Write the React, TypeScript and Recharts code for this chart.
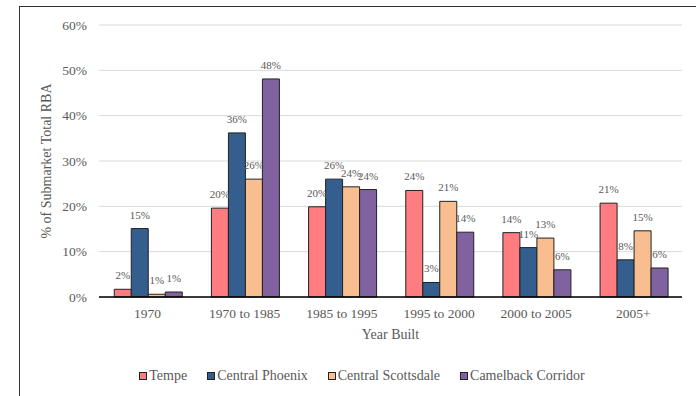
import * as React from "react"
import { BarChart, Bar, XAxis, YAxis, CartesianGrid, LabelList, Label } from "recharts"

// Share of submarket rentable building area by construction period
const periods = ["1970", "1970 to 1985", "1985 to 1995", "1995 to 2000", "2000 to 2005", "2005+"]
const tempe = [1.7, 19.6, 19.9, 23.5, 14.2, 20.7]
const centralPhoenix = [15.1, 36.2, 26.0, 3.2, 10.9, 8.2]
const centralScottsdale = [0.6, 26.0, 24.3, 21.1, 13.0, 14.6]
const camelbackCorridor = [1.1, 48.1, 23.7, 14.3, 6.0, 6.4]
const yTicks = [0, 10, 20, 30, 40, 50, 60]

const series = [
  { key: "tempe", name: "Tempe", color: "#FF7C80" },
  { key: "centralPhoenix", name: "Central Phoenix", color: "#335E8D" },
  { key: "centralScottsdale", name: "Central Scottsdale", color: "#F9BE8F" },
  { key: "camelbackCorridor", name: "Camelback Corridor", color: "#8062A0" },
]

const data = periods.map((period, i) => ({
  period,
  tempe: tempe[i],
  centralPhoenix: centralPhoenix[i],
  centralScottsdale: centralScottsdale[i],
  camelbackCorridor: camelbackCorridor[i],
}))

const FONT = '"Liberation Serif", "Times New Roman", serif'
const TEXT = "#595959"

function SeriesLegend() {
  return (
    <div
      style={{
        position: "absolute",
        left: 19,
        width: 706,
        top: 368,
        display: "flex",
        justifyContent: "center",
        fontFamily: FONT,
        fontSize: 14,
        lineHeight: "16px",
        color: TEXT,
      }}
    >
      {series.map((s) => (
        <div key={s.key} style={{ display: "flex", alignItems: "center", marginRight: 20 }}>
          <span
            style={{
              width: 6,
              height: 6,
              background: s.color,
              border: "1px solid #222",
              marginRight: 2,
              display: "inline-block",
            }}
          />
          <span>{s.name}</span>
        </div>
      ))}
    </div>
  )
}

export default function App() {
  return (
    <div style={{ position: "absolute", left: 0, top: 0, width: 696, height: 396, overflow: "hidden", background: "#fff" }}>
      <div
        style={{
          position: "absolute",
          left: 19,
          top: 6,
          width: 700,
          height: 420,
          border: "1px solid #333",
          boxSizing: "border-box",
        }}
      />
      <BarChart
        width={696}
        height={396}
        data={data}
        margin={{ top: 25, right: 14, bottom: 69, left: 19 }}
        barCategoryGap="15.7%"
        barGap={0}
        style={{ position: "absolute", left: 0, top: 0 }}
      >
        <CartesianGrid vertical={false} stroke="#D9D9D9" />
        <XAxis
          dataKey="period"
          height={30}
          tickLine={false}
          axisLine={{ stroke: "#000", strokeWidth: 1.5 }}
          tickMargin={5}
          tick={{ fill: TEXT, fontSize: 13.5, fontFamily: FONT }}
          interval={0}
        >
          <Label
            content={({ viewBox }: any) => (
              <text
                x={viewBox.x + viewBox.width / 2}
                y={viewBox.y + 42}
                textAnchor="middle"
                fill={TEXT}
                fontSize={14}
                fontFamily={FONT}
              >
                Year Built
              </text>
            )}
          />
        </XAxis>
        <YAxis
          width={80}
          domain={[0, 60]}
          ticks={yTicks}
          tickFormatter={(v: number) => `${v}%`}
          axisLine={false}
          tickLine={false}
          tickMargin={6}
          tick={{ fill: TEXT, fontSize: 13.5, fontFamily: FONT }}
        >
          <Label
            content={({ viewBox }: any) => {
              const cx = viewBox.x + 29
              const cy = viewBox.y + viewBox.height / 2
              return (
                <text
                  x={cx}
                  y={cy}
                  transform={`rotate(-90 ${cx} ${cy})`}
                  textAnchor="middle"
                  dominantBaseline="middle"
                  fill={TEXT}
                  fontSize={14}
                  fontFamily={FONT}
                >
                  % of Submarket Total RBA
                </text>
              )
            }}
          />
        </YAxis>
        {series.map((s) => (
          <Bar
            key={s.key}
            dataKey={s.key}
            name={s.name}
            fill={s.color}
            stroke="#222"
            strokeWidth={1}
            isAnimationActive={false}
          >
            <LabelList
              dataKey={s.key}
              position="top"
              offset={10}
              formatter={(v: any) => `${Math.round(Number(v))}%`}
              style={{ fill: TEXT, fontSize: 11, fontFamily: FONT }}
            />
          </Bar>
        ))}
      </BarChart>
      <SeriesLegend />
    </div>
  )
}
